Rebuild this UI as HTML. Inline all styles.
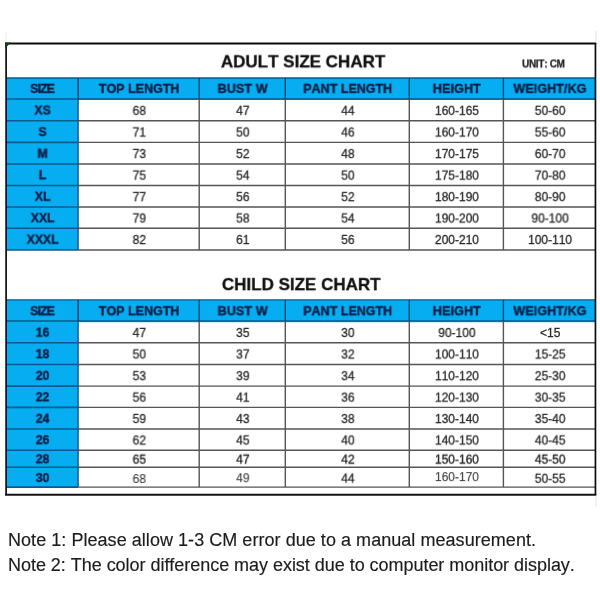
<!DOCTYPE html>
<html lang="en"><head><meta charset="utf-8"><title>Size Chart</title>
<style>
html,body{margin:0;padding:0;background:#fff;}
body{font-kerning:none;width:600px;height:600px;position:relative;overflow:hidden;font-family:"Liberation Sans",Arial,sans-serif;}
#c{position:absolute;left:0;top:0;width:600px;height:600px;overflow:hidden;background:#fff;}
#c svg{position:absolute;left:0;top:0;}
.t{position:absolute;white-space:nowrap;line-height:1;}
.h{font-weight:bold;font-size:12.5px;color:#071d45;-webkit-text-stroke:0.4px #071d45;}
.l{font-weight:bold;font-size:12.2px;color:#071d45;-webkit-text-stroke:0.4px #071d45;}
.d{font-size:12px;color:#2a2a2a;-webkit-text-stroke:0.3px #2a2a2a;}
.title{font-weight:bold;font-size:17px;color:#111;-webkit-text-stroke:0.3px #111;}
.unit{font-weight:bold;font-size:10px;color:#222;letter-spacing:-0.3px;-webkit-text-stroke:0.25px #222;}
.n{position:absolute;white-space:nowrap;line-height:1;font-size:18px;color:#1c1c1c;-webkit-text-stroke:0.15px #1c1c1c;}
</style></head><body><div id="c">
<svg width="600" height="600" viewBox="0 0 600 600">
<rect x="6.00" y="78.00" width="589.65" height="22.00" fill="#06ADF1"/>
<rect x="6.00" y="78.00" width="72.10" height="172.00" fill="#06ADF1"/>
<line x1="6.00" y1="78.00" x2="595.65" y2="78.00" stroke="#0a5a8c" stroke-width="1.4"/>
<line x1="6.00" y1="98.90" x2="595.65" y2="98.90" stroke="#0a5a8c" stroke-width="1.5"/>
<line x1="6.00" y1="120.80" x2="78.10" y2="120.80" stroke="#0a5a8c" stroke-width="1.6"/>
<line x1="78.10" y1="120.80" x2="595.65" y2="120.80" stroke="#555555" stroke-width="1.4"/>
<line x1="6.00" y1="142.40" x2="78.10" y2="142.40" stroke="#0a5a8c" stroke-width="1.6"/>
<line x1="78.10" y1="142.40" x2="595.65" y2="142.40" stroke="#555555" stroke-width="1.4"/>
<line x1="6.00" y1="164.00" x2="78.10" y2="164.00" stroke="#0a5a8c" stroke-width="1.6"/>
<line x1="78.10" y1="164.00" x2="595.65" y2="164.00" stroke="#555555" stroke-width="1.4"/>
<line x1="6.00" y1="185.50" x2="78.10" y2="185.50" stroke="#0a5a8c" stroke-width="1.6"/>
<line x1="78.10" y1="185.50" x2="595.65" y2="185.50" stroke="#555555" stroke-width="1.4"/>
<line x1="6.00" y1="207.00" x2="78.10" y2="207.00" stroke="#0a5a8c" stroke-width="1.6"/>
<line x1="78.10" y1="207.00" x2="595.65" y2="207.00" stroke="#555555" stroke-width="1.4"/>
<line x1="6.00" y1="228.30" x2="78.10" y2="228.30" stroke="#0a5a8c" stroke-width="1.6"/>
<line x1="78.10" y1="228.30" x2="595.65" y2="228.30" stroke="#555555" stroke-width="1.4"/>
<line x1="6.00" y1="250.00" x2="78.10" y2="250.00" stroke="#0a5a8c" stroke-width="1.6"/>
<line x1="78.10" y1="250.00" x2="595.65" y2="250.00" stroke="#555555" stroke-width="1.4"/>
<line x1="78.10" y1="78.00" x2="78.10" y2="99.20" stroke="#07406e" stroke-width="1.4"/>
<line x1="78.10" y1="99.20" x2="78.10" y2="250.00" stroke="#0a5a8c" stroke-width="1.4"/>
<line x1="199.20" y1="78.00" x2="199.20" y2="99.20" stroke="#07406e" stroke-width="1.4"/>
<line x1="199.20" y1="99.20" x2="199.20" y2="250.00" stroke="#555555" stroke-width="1.4"/>
<line x1="285.30" y1="78.00" x2="285.30" y2="99.20" stroke="#07406e" stroke-width="1.4"/>
<line x1="285.30" y1="99.20" x2="285.30" y2="250.00" stroke="#555555" stroke-width="1.4"/>
<line x1="409.30" y1="78.00" x2="409.30" y2="99.20" stroke="#07406e" stroke-width="1.4"/>
<line x1="409.30" y1="99.20" x2="409.30" y2="250.00" stroke="#555555" stroke-width="1.4"/>
<line x1="503.40" y1="78.00" x2="503.40" y2="99.20" stroke="#07406e" stroke-width="1.4"/>
<line x1="503.40" y1="99.20" x2="503.40" y2="250.00" stroke="#555555" stroke-width="1.4"/>
<rect x="6.00" y="299.90" width="589.65" height="22.30" fill="#06ADF1"/>
<rect x="6.00" y="299.90" width="72.10" height="187.20" fill="#06ADF1"/>
<line x1="6.00" y1="299.90" x2="595.65" y2="299.90" stroke="#0a5a8c" stroke-width="1.4"/>
<line x1="6.00" y1="321.10" x2="595.65" y2="321.10" stroke="#0a5a8c" stroke-width="1.5"/>
<line x1="6.00" y1="342.80" x2="78.10" y2="342.80" stroke="#0a5a8c" stroke-width="1.6"/>
<line x1="78.10" y1="342.80" x2="595.65" y2="342.80" stroke="#555555" stroke-width="1.4"/>
<line x1="6.00" y1="364.50" x2="78.10" y2="364.50" stroke="#0a5a8c" stroke-width="1.6"/>
<line x1="78.10" y1="364.50" x2="595.65" y2="364.50" stroke="#555555" stroke-width="1.4"/>
<line x1="6.00" y1="386.10" x2="78.10" y2="386.10" stroke="#0a5a8c" stroke-width="1.6"/>
<line x1="78.10" y1="386.10" x2="595.65" y2="386.10" stroke="#555555" stroke-width="1.4"/>
<line x1="6.00" y1="407.40" x2="78.10" y2="407.40" stroke="#0a5a8c" stroke-width="1.6"/>
<line x1="78.10" y1="407.40" x2="595.65" y2="407.40" stroke="#555555" stroke-width="1.4"/>
<line x1="6.00" y1="429.00" x2="78.10" y2="429.00" stroke="#0a5a8c" stroke-width="1.6"/>
<line x1="78.10" y1="429.00" x2="595.65" y2="429.00" stroke="#555555" stroke-width="1.4"/>
<line x1="6.00" y1="450.30" x2="78.10" y2="450.30" stroke="#0a5a8c" stroke-width="1.6"/>
<line x1="78.10" y1="450.30" x2="595.65" y2="450.30" stroke="#555555" stroke-width="1.4"/>
<line x1="6.00" y1="467.20" x2="78.10" y2="467.20" stroke="#0a5a8c" stroke-width="1.6"/>
<line x1="78.10" y1="467.20" x2="595.65" y2="467.20" stroke="#555555" stroke-width="1.4"/>
<line x1="6.00" y1="487.10" x2="78.10" y2="487.10" stroke="#0a5a8c" stroke-width="1.6"/>
<line x1="78.10" y1="487.10" x2="595.65" y2="487.10" stroke="#555555" stroke-width="1.4"/>
<line x1="78.10" y1="299.90" x2="78.10" y2="321.40" stroke="#07406e" stroke-width="1.4"/>
<line x1="78.10" y1="321.40" x2="78.10" y2="487.10" stroke="#0a5a8c" stroke-width="1.4"/>
<line x1="199.20" y1="299.90" x2="199.20" y2="321.40" stroke="#07406e" stroke-width="1.4"/>
<line x1="199.20" y1="321.40" x2="199.20" y2="487.10" stroke="#555555" stroke-width="1.4"/>
<line x1="285.30" y1="299.90" x2="285.30" y2="321.40" stroke="#07406e" stroke-width="1.4"/>
<line x1="285.30" y1="321.40" x2="285.30" y2="487.10" stroke="#555555" stroke-width="1.4"/>
<line x1="409.30" y1="299.90" x2="409.30" y2="321.40" stroke="#07406e" stroke-width="1.4"/>
<line x1="409.30" y1="321.40" x2="409.30" y2="487.10" stroke="#555555" stroke-width="1.4"/>
<line x1="503.40" y1="299.90" x2="503.40" y2="321.40" stroke="#07406e" stroke-width="1.4"/>
<line x1="503.40" y1="321.40" x2="503.40" y2="487.10" stroke="#555555" stroke-width="1.4"/>
<line x1="5.00" y1="43.50" x2="596.30" y2="43.50" stroke="#0c0c0c" stroke-width="2.0"/>
<line x1="5.00" y1="494.70" x2="596.30" y2="494.70" stroke="#141414" stroke-width="2.0"/>
<line x1="6.10" y1="44.50" x2="6.10" y2="494.70" stroke="#0c0c0c" stroke-width="1.7"/>
<line x1="595.45" y1="43.50" x2="595.45" y2="494.70" stroke="#0c0c0c" stroke-width="1.7"/>
<path d="M5 42.5 L10.8 42.5 L5 48.6 Z" fill="#143f1f"/>
<line x1="6" y1="32" x2="6" y2="42" stroke="#ececec" stroke-width="1"/>
<line x1="595.9" y1="31" x2="595.9" y2="42.5" stroke="#e2e2e2" stroke-width="1"/>
<line x1="596" y1="496" x2="596" y2="507" stroke="#f0f0f0" stroke-width="1.4"/>
</svg>
<span class="t h" style="left:42px;top:89px;transform:perspective(500px) translate3d(calc(-50% + 0.07px),calc(-50% + 0.10px),0.01px);letter-spacing:-0.95px;">SIZE</span>
<span class="t h" style="left:139px;top:89px;transform:perspective(500px) translate3d(calc(-50% + 0.05px),calc(-50% + 0.10px),0.01px);letter-spacing:0px;">TOP LENGTH</span>
<span class="t h" style="left:242px;top:89px;transform:perspective(500px) translate3d(calc(-50% + 0.72px),calc(-50% + 0.10px),0.01px);letter-spacing:0.15px;">BUST W</span>
<span class="t h" style="left:347px;top:89px;transform:perspective(500px) translate3d(calc(-50% + 0.70px),calc(-50% + 0.10px),0.01px);letter-spacing:0px;">PANT LENGTH</span>
<span class="t h" style="left:456px;top:89px;transform:perspective(500px) translate3d(calc(-50% + 0.82px),calc(-50% + 0.10px),0.01px);letter-spacing:0.15px;">HEIGHT</span>
<span class="t h" style="left:549px;top:89px;transform:perspective(500px) translate3d(calc(-50% + 0.97px),calc(-50% + 0.10px),0.01px);letter-spacing:0.1px;">WEIGHT/KG</span>
<span class="t l" style="left:42px;top:110px;transform:perspective(500px) translate3d(calc(-50% + 0.55px),calc(-50% + 0.60px),0.01px);">XS</span>
<span class="t d" style="left:139px;top:110px;transform:perspective(500px) translate3d(calc(-50% + 0.25px),calc(-50% + 0.85px),0.01px);">68</span>
<span class="t d" style="left:242px;top:110px;transform:perspective(500px) translate3d(calc(-50% + 0.85px),calc(-50% + 0.85px),0.01px);">47</span>
<span class="t d" style="left:347px;top:110px;transform:perspective(500px) translate3d(calc(-50% + 0.90px),calc(-50% + 0.85px),0.01px);">44</span>
<span class="t d" style="left:456px;top:110px;transform:perspective(500px) translate3d(calc(-50% + 0.95px),calc(-50% + 0.85px),0.01px);">160-165</span>
<span class="t d" style="left:550px;top:110px;transform:perspective(500px) translate3d(calc(-50% + 0.12px),calc(-50% + 0.85px),0.01px);">50-60</span>
<span class="t l" style="left:42px;top:132px;transform:perspective(500px) translate3d(calc(-50% + 0.55px),calc(-50% + 0.20px),0.01px);">S</span>
<span class="t d" style="left:139px;top:132px;transform:perspective(500px) translate3d(calc(-50% + 0.25px),calc(-50% + 0.45px),0.01px);">71</span>
<span class="t d" style="left:242px;top:132px;transform:perspective(500px) translate3d(calc(-50% + 0.85px),calc(-50% + 0.45px),0.01px);">50</span>
<span class="t d" style="left:347px;top:132px;transform:perspective(500px) translate3d(calc(-50% + 0.90px),calc(-50% + 0.45px),0.01px);">46</span>
<span class="t d" style="left:456px;top:132px;transform:perspective(500px) translate3d(calc(-50% + 0.95px),calc(-50% + 0.45px),0.01px);">160-170</span>
<span class="t d" style="left:550px;top:132px;transform:perspective(500px) translate3d(calc(-50% + 0.12px),calc(-50% + 0.45px),0.01px);">55-60</span>
<span class="t l" style="left:42px;top:153px;transform:perspective(500px) translate3d(calc(-50% + 0.55px),calc(-50% + 0.80px),0.01px);">M</span>
<span class="t d" style="left:139px;top:154px;transform:perspective(500px) translate3d(calc(-50% + 0.25px),calc(-50% + 0.05px),0.01px);">73</span>
<span class="t d" style="left:242px;top:154px;transform:perspective(500px) translate3d(calc(-50% + 0.85px),calc(-50% + 0.05px),0.01px);">52</span>
<span class="t d" style="left:347px;top:154px;transform:perspective(500px) translate3d(calc(-50% + 0.90px),calc(-50% + 0.05px),0.01px);">48</span>
<span class="t d" style="left:456px;top:154px;transform:perspective(500px) translate3d(calc(-50% + 0.95px),calc(-50% + 0.05px),0.01px);">170-175</span>
<span class="t d" style="left:550px;top:154px;transform:perspective(500px) translate3d(calc(-50% + 0.12px),calc(-50% + 0.05px),0.01px);">60-70</span>
<span class="t l" style="left:42px;top:175px;transform:perspective(500px) translate3d(calc(-50% + 0.55px),calc(-50% + 0.35px),0.01px);">L</span>
<span class="t d" style="left:139px;top:175px;transform:perspective(500px) translate3d(calc(-50% + 0.25px),calc(-50% + 0.60px),0.01px);">75</span>
<span class="t d" style="left:242px;top:175px;transform:perspective(500px) translate3d(calc(-50% + 0.85px),calc(-50% + 0.60px),0.01px);">54</span>
<span class="t d" style="left:347px;top:175px;transform:perspective(500px) translate3d(calc(-50% + 0.90px),calc(-50% + 0.60px),0.01px);">50</span>
<span class="t d" style="left:456px;top:175px;transform:perspective(500px) translate3d(calc(-50% + 0.95px),calc(-50% + 0.60px),0.01px);">175-180</span>
<span class="t d" style="left:550px;top:175px;transform:perspective(500px) translate3d(calc(-50% + 0.12px),calc(-50% + 0.60px),0.01px);">70-80</span>
<span class="t l" style="left:42px;top:196px;transform:perspective(500px) translate3d(calc(-50% + 0.55px),calc(-50% + 0.85px),0.01px);">XL</span>
<span class="t d" style="left:139px;top:197px;transform:perspective(500px) translate3d(calc(-50% + 0.25px),calc(-50% + 0.10px),0.01px);">77</span>
<span class="t d" style="left:242px;top:197px;transform:perspective(500px) translate3d(calc(-50% + 0.85px),calc(-50% + 0.10px),0.01px);">56</span>
<span class="t d" style="left:347px;top:197px;transform:perspective(500px) translate3d(calc(-50% + 0.90px),calc(-50% + 0.10px),0.01px);">52</span>
<span class="t d" style="left:456px;top:197px;transform:perspective(500px) translate3d(calc(-50% + 0.95px),calc(-50% + 0.10px),0.01px);">180-190</span>
<span class="t d" style="left:550px;top:197px;transform:perspective(500px) translate3d(calc(-50% + 0.12px),calc(-50% + 0.10px),0.01px);">80-90</span>
<span class="t l" style="left:42px;top:218px;transform:perspective(500px) translate3d(calc(-50% + 0.55px),calc(-50% + 0.25px),0.01px);">XXL</span>
<span class="t d" style="left:139px;top:218px;transform:perspective(500px) translate3d(calc(-50% + 0.25px),calc(-50% + 0.50px),0.01px);">79</span>
<span class="t d" style="left:242px;top:218px;transform:perspective(500px) translate3d(calc(-50% + 0.85px),calc(-50% + 0.50px),0.01px);">58</span>
<span class="t d" style="left:347px;top:218px;transform:perspective(500px) translate3d(calc(-50% + 0.90px),calc(-50% + 0.50px),0.01px);">54</span>
<span class="t d" style="left:456px;top:218px;transform:perspective(500px) translate3d(calc(-50% + 0.95px),calc(-50% + 0.50px),0.01px);">190-200</span>
<span class="t d" style="left:550px;top:218px;transform:perspective(500px) translate3d(calc(-50% + 0.12px),calc(-50% + 0.50px),0.01px);">90-100</span>
<span class="t l" style="left:42px;top:239px;transform:perspective(500px) translate3d(calc(-50% + 0.55px),calc(-50% + 0.75px),0.01px);">XXXL</span>
<span class="t d" style="left:139px;top:240px;transform:perspective(500px) translate3d(calc(-50% + 0.25px),calc(-50% + 0.00px),0.01px);">82</span>
<span class="t d" style="left:242px;top:240px;transform:perspective(500px) translate3d(calc(-50% + 0.85px),calc(-50% + 0.00px),0.01px);">61</span>
<span class="t d" style="left:347px;top:240px;transform:perspective(500px) translate3d(calc(-50% + 0.90px),calc(-50% + 0.00px),0.01px);">56</span>
<span class="t d" style="left:456px;top:240px;transform:perspective(500px) translate3d(calc(-50% + 0.95px),calc(-50% + 0.00px),0.01px);">200-210</span>
<span class="t d" style="left:550px;top:240px;transform:perspective(500px) translate3d(calc(-50% + 0.12px),calc(-50% + 0.00px),0.01px);">100-110</span>
<span class="t h" style="left:42px;top:311px;transform:perspective(500px) translate3d(calc(-50% + 0.07px),calc(-50% + 0.45px),0.01px);letter-spacing:-0.95px;">SIZE</span>
<span class="t h" style="left:139px;top:311px;transform:perspective(500px) translate3d(calc(-50% + 0.05px),calc(-50% + 0.45px),0.01px);letter-spacing:0px;">TOP LENGTH</span>
<span class="t h" style="left:242px;top:311px;transform:perspective(500px) translate3d(calc(-50% + 0.72px),calc(-50% + 0.45px),0.01px);letter-spacing:0.15px;">BUST W</span>
<span class="t h" style="left:347px;top:311px;transform:perspective(500px) translate3d(calc(-50% + 0.70px),calc(-50% + 0.45px),0.01px);letter-spacing:0px;">PANT LENGTH</span>
<span class="t h" style="left:456px;top:311px;transform:perspective(500px) translate3d(calc(-50% + 0.82px),calc(-50% + 0.45px),0.01px);letter-spacing:0.15px;">HEIGHT</span>
<span class="t h" style="left:549px;top:311px;transform:perspective(500px) translate3d(calc(-50% + 0.97px),calc(-50% + 0.45px),0.01px);letter-spacing:0.1px;">WEIGHT/KG</span>
<span class="t l" style="left:42px;top:332px;transform:perspective(500px) translate3d(calc(-50% + 0.55px),calc(-50% + 0.70px),0.01px);">16</span>
<span class="t d" style="left:139px;top:332px;transform:perspective(500px) translate3d(calc(-50% + 0.25px),calc(-50% + 0.95px),0.01px);">47</span>
<span class="t d" style="left:242px;top:332px;transform:perspective(500px) translate3d(calc(-50% + 0.85px),calc(-50% + 0.95px),0.01px);">35</span>
<span class="t d" style="left:347px;top:332px;transform:perspective(500px) translate3d(calc(-50% + 0.90px),calc(-50% + 0.95px),0.01px);">30</span>
<span class="t d" style="left:456px;top:332px;transform:perspective(500px) translate3d(calc(-50% + 0.95px),calc(-50% + 0.95px),0.01px);">90-100</span>
<span class="t d" style="left:550px;top:332px;transform:perspective(500px) translate3d(calc(-50% + 0.12px),calc(-50% + 0.95px),0.01px);">&lt;15</span>
<span class="t l" style="left:42px;top:354px;transform:perspective(500px) translate3d(calc(-50% + 0.55px),calc(-50% + 0.25px),0.01px);">18</span>
<span class="t d" style="left:139px;top:354px;transform:perspective(500px) translate3d(calc(-50% + 0.25px),calc(-50% + 0.50px),0.01px);">50</span>
<span class="t d" style="left:242px;top:354px;transform:perspective(500px) translate3d(calc(-50% + 0.85px),calc(-50% + 0.50px),0.01px);">37</span>
<span class="t d" style="left:347px;top:354px;transform:perspective(500px) translate3d(calc(-50% + 0.90px),calc(-50% + 0.50px),0.01px);">32</span>
<span class="t d" style="left:456px;top:354px;transform:perspective(500px) translate3d(calc(-50% + 0.95px),calc(-50% + 0.50px),0.01px);">100-110</span>
<span class="t d" style="left:550px;top:354px;transform:perspective(500px) translate3d(calc(-50% + 0.12px),calc(-50% + 0.50px),0.01px);">15-25</span>
<span class="t l" style="left:42px;top:375px;transform:perspective(500px) translate3d(calc(-50% + 0.55px),calc(-50% + 0.90px),0.01px);">20</span>
<span class="t d" style="left:139px;top:376px;transform:perspective(500px) translate3d(calc(-50% + 0.25px),calc(-50% + 0.15px),0.01px);">53</span>
<span class="t d" style="left:242px;top:376px;transform:perspective(500px) translate3d(calc(-50% + 0.85px),calc(-50% + 0.15px),0.01px);">39</span>
<span class="t d" style="left:347px;top:376px;transform:perspective(500px) translate3d(calc(-50% + 0.90px),calc(-50% + 0.15px),0.01px);">34</span>
<span class="t d" style="left:456px;top:376px;transform:perspective(500px) translate3d(calc(-50% + 0.95px),calc(-50% + 0.15px),0.01px);">110-120</span>
<span class="t d" style="left:550px;top:376px;transform:perspective(500px) translate3d(calc(-50% + 0.12px),calc(-50% + 0.15px),0.01px);">25-30</span>
<span class="t l" style="left:42px;top:397px;transform:perspective(500px) translate3d(calc(-50% + 0.55px),calc(-50% + 0.35px),0.01px);">22</span>
<span class="t d" style="left:139px;top:397px;transform:perspective(500px) translate3d(calc(-50% + 0.25px),calc(-50% + 0.60px),0.01px);">56</span>
<span class="t d" style="left:242px;top:397px;transform:perspective(500px) translate3d(calc(-50% + 0.85px),calc(-50% + 0.60px),0.01px);">41</span>
<span class="t d" style="left:347px;top:397px;transform:perspective(500px) translate3d(calc(-50% + 0.90px),calc(-50% + 0.60px),0.01px);">36</span>
<span class="t d" style="left:456px;top:397px;transform:perspective(500px) translate3d(calc(-50% + 0.95px),calc(-50% + 0.60px),0.01px);">120-130</span>
<span class="t d" style="left:550px;top:397px;transform:perspective(500px) translate3d(calc(-50% + 0.12px),calc(-50% + 0.60px),0.01px);">30-35</span>
<span class="t l" style="left:42px;top:418px;transform:perspective(500px) translate3d(calc(-50% + 0.55px),calc(-50% + 0.80px),0.01px);">24</span>
<span class="t d" style="left:139px;top:419px;transform:perspective(500px) translate3d(calc(-50% + 0.25px),calc(-50% + 0.05px),0.01px);">59</span>
<span class="t d" style="left:242px;top:419px;transform:perspective(500px) translate3d(calc(-50% + 0.85px),calc(-50% + 0.05px),0.01px);">43</span>
<span class="t d" style="left:347px;top:419px;transform:perspective(500px) translate3d(calc(-50% + 0.90px),calc(-50% + 0.05px),0.01px);">38</span>
<span class="t d" style="left:456px;top:419px;transform:perspective(500px) translate3d(calc(-50% + 0.95px),calc(-50% + 0.05px),0.01px);">130-140</span>
<span class="t d" style="left:550px;top:419px;transform:perspective(500px) translate3d(calc(-50% + 0.12px),calc(-50% + 0.05px),0.01px);">35-40</span>
<span class="t l" style="left:42px;top:440px;transform:perspective(500px) translate3d(calc(-50% + 0.55px),calc(-50% + 0.25px),0.01px);">26</span>
<span class="t d" style="left:139px;top:440px;transform:perspective(500px) translate3d(calc(-50% + 0.25px),calc(-50% + 0.50px),0.01px);">62</span>
<span class="t d" style="left:242px;top:440px;transform:perspective(500px) translate3d(calc(-50% + 0.85px),calc(-50% + 0.50px),0.01px);">45</span>
<span class="t d" style="left:347px;top:440px;transform:perspective(500px) translate3d(calc(-50% + 0.90px),calc(-50% + 0.50px),0.01px);">40</span>
<span class="t d" style="left:456px;top:440px;transform:perspective(500px) translate3d(calc(-50% + 0.95px),calc(-50% + 0.50px),0.01px);">140-150</span>
<span class="t d" style="left:550px;top:440px;transform:perspective(500px) translate3d(calc(-50% + 0.12px),calc(-50% + 0.50px),0.01px);">40-45</span>
<span class="t l" style="left:42px;top:459px;transform:perspective(500px) translate3d(calc(-50% + 0.55px),calc(-50% + 0.35px),0.01px);">28</span>
<span class="t d" style="left:139px;top:459px;transform:perspective(500px) translate3d(calc(-50% + 0.25px),calc(-50% + 0.60px),0.01px);color:#222;-webkit-text-stroke:0.33px #222;">65</span>
<span class="t d" style="left:242px;top:459px;transform:perspective(500px) translate3d(calc(-50% + 0.85px),calc(-50% + 0.60px),0.01px);color:#222;-webkit-text-stroke:0.33px #222;">47</span>
<span class="t d" style="left:347px;top:459px;transform:perspective(500px) translate3d(calc(-50% + 0.90px),calc(-50% + 0.60px),0.01px);color:#222;-webkit-text-stroke:0.33px #222;">42</span>
<span class="t d" style="left:456px;top:459px;transform:perspective(500px) translate3d(calc(-50% + 0.95px),calc(-50% + 0.60px),0.01px);color:#222;-webkit-text-stroke:0.33px #222;">150-160</span>
<span class="t d" style="left:550px;top:459px;transform:perspective(500px) translate3d(calc(-50% + 0.12px),calc(-50% + 0.60px),0.01px);color:#222;-webkit-text-stroke:0.33px #222;">45-50</span>
<span class="t l" style="left:42px;top:478px;transform:perspective(500px) translate3d(calc(-50% + 0.55px),calc(-50% + 0.15px),0.01px);">30</span>
<span class="t d" style="left:139px;top:479px;transform:perspective(500px) translate3d(calc(-50% + 0.25px),calc(-50% + 0.00px),0.01px);color:#3e3e3e;-webkit-text-stroke:0.12px #3e3e3e;">68</span>
<span class="t d" style="left:242px;top:478px;transform:perspective(500px) translate3d(calc(-50% + 0.85px),calc(-50% + 0.20px),0.01px);color:#3e3e3e;-webkit-text-stroke:0.12px #3e3e3e;">49</span>
<span class="t d" style="left:347px;top:478px;transform:perspective(500px) translate3d(calc(-50% + 0.90px),calc(-50% + 0.60px),0.01px);">44</span>
<span class="t d" style="left:456px;top:477px;transform:perspective(500px) translate3d(calc(-50% + 0.95px),calc(-50% + 0.10px),0.01px);color:#3e3e3e;-webkit-text-stroke:0.12px #3e3e3e;">160-170</span>
<span class="t d" style="left:550px;top:478px;transform:perspective(500px) translate3d(calc(-50% + 0.12px),calc(-50% + 0.80px),0.01px);">50-55</span>
<span class="t title" style="left:303px;top:61px;transform:perspective(500px) translate3d(calc(-50% + 0.00px),calc(-50% + 0.80px),0.01px);">ADULT SIZE CHART</span>
<span class="t title" style="left:301px;top:284px;transform:perspective(500px) translate3d(calc(-50% + 0.20px),calc(-50% + 0.60px),0.01px);">CHILD SIZE CHART</span>
<span class="t unit" style="left:543px;top:64px;transform:perspective(500px) translate3d(calc(-50% + 0.30px),calc(-50% + 0.40px),0.01px);">UNIT: CM</span>
<span class="n" style="left:8px;top:531px;letter-spacing:0.045px;">Note 1: Please allow 1-3 CM error due to a manual measurement.</span>
<span class="n" style="left:8px;top:556px;letter-spacing:-0.035px;">Note 2: The color difference may exist due to computer monitor display.</span>
</div></body></html>
